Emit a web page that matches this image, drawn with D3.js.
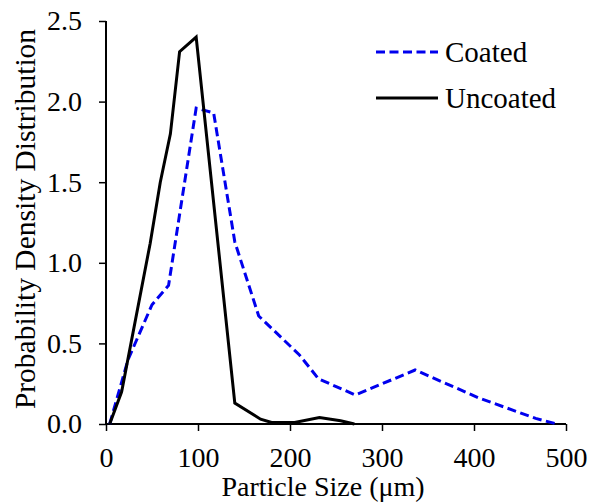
<!DOCTYPE html>
<html>
<head>
<meta charset="utf-8">
<script src="https://cdn.jsdelivr.net/npm/d3@7"></script>
<style>
  body { margin: 0; background: #fff; }
  svg text { font-family: 'Liberation Serif', 'Times New Roman', serif; fill: #000; }
</style>
</head>
<body>
<script>
'use strict';

const SERIF = "'Liberation Serif', 'Times New Roman', serif"
const BLUE  = '#0000ee'
const BLACK = '#000'

// particle size (um) and probability density
const coatedSize   = [4, 24, 50, 68, 98, 117, 140, 166, 210, 231, 271, 336, 406, 467, 490]
const coatedPdf    = [0, 0.40, 0.74, 0.86, 1.96, 1.93, 1.13, 0.67, 0.43, 0.28, 0.18, 0.335, 0.16, 0.035, 0]
const uncoatedSize = [4, 17, 48, 59, 70, 80, 98, 140, 168, 180, 205, 232, 255, 270]
const uncoatedPdf  = [0, 0.2, 1.12, 1.5, 1.8, 2.31, 2.40, 0.13, 0.03, 0.01, 0.01, 0.04, 0.02, 0]

const xTicks = [0, 100, 200, 300, 400, 500]
const yTicks = [0, 0.5, 1.0, 1.5, 2.0, 2.5]
const seriesNames = ['Coated', 'Uncoated']

const W = 590, H = 503
const margin = { top: 21, right: 24, bottom: 79, left: 106 }

const svg = d3.select('body').append('svg')
  .attr('width', W)
  .attr('height', H)

const x = d3.scaleLinear().domain([0, 500]).range([margin.left, W - margin.right])
const y = d3.scaleLinear().domain([0, 2.5]).range([H - margin.bottom, margin.top])

// axes
const xAxis = svg.append('g')
  .attr('transform', `translate(0, ${ y(0) })`)
  .call(d3.axisBottom(x).tickValues(xTicks).tickSize(7).tickPadding(16).tickFormat(d3.format('d')))
const yAxis = svg.append('g')
  .attr('transform', `translate(${ x(0) }, 0)`)
  .call(d3.axisLeft(y).tickValues(yTicks).tickSize(7).tickPadding(17).tickFormat(d3.format('.1f')))

;[xAxis, yAxis].forEach(g => {
  g.attr('font-family', SERIF)
  g.select('.domain').attr('stroke', BLACK).attr('stroke-width', 2)
  g.selectAll('.tick line').attr('stroke', BLACK).attr('stroke-width', 1.5)
  g.selectAll('.tick text')
    .style('font-family', SERIF)
    .style('font-size', '28px')
})
xAxis.select('.domain').attr('d', `M${ x(0) },0H${ x(500) }`)
yAxis.select('.domain').attr('d', `M0,${ y(2.5) }V${ y(0) }`)

// lines
const line = d3.line()
  .x(d => x(d[0]))
  .y(d => y(d[1]))

svg.append('path')
  .datum(d3.zip(coatedSize, coatedPdf))
  .attr('fill', 'none')
  .attr('stroke', BLUE)
  .attr('stroke-width', 3)
  .attr('stroke-dasharray', '9,4.5')
  .attr('d', line)

svg.append('path')
  .datum(d3.zip(uncoatedSize, uncoatedPdf))
  .attr('fill', 'none')
  .attr('stroke', BLACK)
  .attr('stroke-width', 3)
  .attr('stroke-linejoin', 'miter')
  .attr('d', line)

// legend
const legend = svg.append('g').attr('transform', 'translate(376, 52)')
seriesNames.forEach((name, i) => {
  const row = legend.append('g').attr('transform', `translate(0, ${ i * 46 })`)
  row.append('line')
    .attr('x1', 0).attr('x2', 62)
    .attr('stroke', i === 0 ? BLUE : BLACK)
    .attr('stroke-width', 3)
    .attr('stroke-dasharray', i === 0 ? '9,4.5' : null)
  row.append('text')
    .attr('x', 69)
    .attr('y', 10)
    .style('font-family', SERIF)
    .style('font-size', '29px')
    .text(name)
})

// axis titles (the original title sits a little left of the axis centre)
svg.append('text')
  .attr('x', 323)
  .attr('y', 496)
  .attr('text-anchor', 'middle')
  .style('font-family', SERIF)
  .style('font-size', '28px')
  .text('Particle Size (\u03bcm)')

svg.append('text')
  .attr('transform', 'translate(35, 219) rotate(-90)')
  .attr('text-anchor', 'middle')
  .style('font-family', SERIF)
  .style('font-size', '29.5px')
  .text('Probability Density Distribution')
</script>
</body>
</html>
